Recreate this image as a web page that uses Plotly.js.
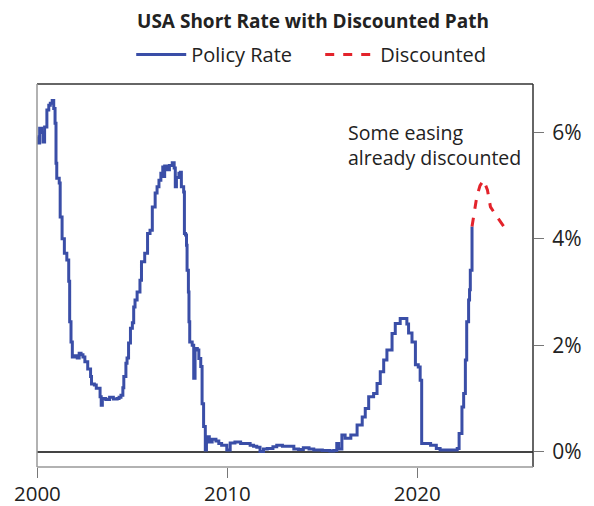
<!DOCTYPE html>
<html>
<head>
<meta charset="utf-8">
<script src="https://cdn.plot.ly/plotly-3.0.1.min.js"></script>
<style>html,body{margin:0;padding:0;background:#fff;}#chart{width:594px;height:506px;}</style>
</head>
<body>
<div id="chart"></div>
<script>
const policyYears = [2000.00,2000.05,2000.12,2000.22,2000.30,2000.38,2000.50,2000.60,2000.68,2000.78,2000.86,2000.93,2000.98,2001.02,2001.15,2001.20,2001.30,2001.42,2001.55,2001.65,2001.70,2001.77,2001.84,2001.95,2002.10,2002.20,2002.30,2002.40,2002.50,2002.65,2002.80,2002.85,2003.00,2003.10,2003.30,2003.36,2003.42,2003.60,2003.80,2004.00,2004.20,2004.30,2004.40,2004.50,2004.55,2004.66,2004.72,2004.80,2004.90,2005.00,2005.07,2005.14,2005.25,2005.40,2005.48,2005.65,2005.80,2005.93,2006.05,2006.20,2006.30,2006.40,2006.50,2006.60,2006.65,2006.70,2006.85,2006.95,2007.10,2007.20,2007.26,2007.32,2007.45,2007.53,2007.58,2007.70,2007.74,2007.80,2007.85,2007.88,2007.95,2007.98,2008.02,2008.15,2008.23,2008.30,2008.42,2008.50,2008.60,2008.67,2008.75,2008.84,2008.90,2009.05,2009.20,2009.40,2009.55,2009.70,2009.97,2010.15,2010.40,2010.70,2011.00,2011.20,2011.38,2011.55,2011.72,2011.90,2012.10,2012.40,2012.60,2012.90,2013.10,2013.50,2013.75,2014.00,2014.30,2014.55,2015.00,2015.40,2015.60,2015.76,2015.86,2016.03,2016.20,2016.50,2016.83,2017.10,2017.26,2017.44,2017.70,2017.88,2018.05,2018.23,2018.40,2018.67,2018.84,2019.10,2019.37,2019.45,2019.54,2019.72,2019.90,2020.05,2020.15,2020.23,2020.70,2021.00,2021.20,2021.60,2022.10,2022.20,2022.35,2022.44,2022.53,2022.60,2022.70,2022.75,2022.79,2022.88];
const policyRate = [5.92,5.80,6.08,6.00,5.82,6.10,6.42,6.51,6.55,6.60,6.45,6.17,5.42,5.14,5.05,4.41,4.00,3.73,3.60,3.20,2.44,2.06,1.78,1.80,1.76,1.85,1.82,1.78,1.69,1.55,1.41,1.27,1.25,1.19,1.03,0.87,1.00,0.98,1.02,0.99,1.00,1.02,1.06,1.20,1.41,1.66,1.76,2.04,2.32,2.42,2.72,2.85,3.00,3.22,3.57,3.73,4.10,4.16,4.60,4.86,4.98,5.10,5.23,5.35,5.17,5.37,5.30,5.38,5.43,5.33,4.98,5.15,5.23,5.25,4.98,4.88,4.10,4.07,3.88,3.41,3.00,2.44,2.06,2.00,1.38,1.94,1.91,1.75,1.60,0.90,0.47,0.03,0.28,0.18,0.23,0.20,0.15,0.12,0.03,0.16,0.18,0.15,0.15,0.12,0.10,0.08,0.00,0.05,0.06,0.09,0.12,0.10,0.10,0.05,0.04,0.07,0.05,0.03,0.02,0.01,0.02,0.15,0.05,0.31,0.25,0.31,0.50,0.65,0.81,1.03,1.09,1.28,1.50,1.72,1.91,2.22,2.41,2.50,2.50,2.40,2.23,2.06,1.63,1.59,1.34,0.15,0.12,0.06,0.03,0.03,0.06,0.34,0.84,1.09,1.72,2.44,2.85,3.04,3.41,4.23];
const discYears = [2022.88,2023.13,2023.30,2023.49,2023.69,2023.85,2024.20,2024.70];
const discRate = [4.23,4.79,5.00,5.10,4.92,4.60,4.41,4.16];
const yTickVals = [0,2,4,6];
const yTickText = ['0%','2%','4%','6%'];
const xTickVals = [2000,2010,2020];
const xTickText = ['2000','2010','2020'];
const noteText = 'Some easing<br>already discounted';

const FONT = '"Open Sans", "Noto Sans", sans-serif';
const traces = [
  {x: policyYears, y: policyRate, type:'scatter', mode:'lines', name:'Policy Rate',
   line:{color:'#3a4ea7', width:3, shape:'hv'}},
  {x: discYears, y: discRate, type:'scatter', mode:'lines', name:'Discounted',
   line:{color:'#e3232b', width:3, dash:'dash'}}
];
const layout = {
  width:594, height:506,
  margin:{l:37, r:61, t:84, b:39},
  paper_bgcolor:'#fff', plot_bgcolor:'#fff',
  font:{family:FONT, color:'#222', size:20},
  title:{text:'<b>USA Short Rate with Discounted Path</b>', x:0.527, xanchor:'center', xref:'container',
         y:0.958, yanchor:'middle', yref:'container', font:{family:FONT, size:19, color:'#222'}},
  showlegend:true,
  legend:{orientation:'h', x:0.571, xanchor:'center', y:1.077, yanchor:'middle', entrywidth:124,
          font:{family:FONT, size:20, color:'#222'}, itemwidth:50, bgcolor:'rgba(0,0,0,0)'},
  xaxis:{range:[1999.98, 2026.09], tickvals:xTickVals, ticktext:xTickText,
         showgrid:false, zeroline:false, ticks:'outside', ticklen:10, tickcolor:'#777', tickwidth:1,
         showline:false, ticklabelstandoff:-2, tickfont:{size:20.5, color:'#222'}},
  yaxis:{range:[-0.29, 6.91], side:'right', tickvals:yTickVals, ticktext:yTickText,
         showgrid:false, zeroline:true, zerolinecolor:'#444', zerolinewidth:2,
         ticks:'outside', ticklen:10, tickcolor:'#777', tickwidth:1, showline:false,
         ticklabelstandoff:4, tickfont:{size:21, color:'#222'}},
  shapes:[
    {type:'line', xref:'paper', yref:'paper', x0:0, x1:1, y0:1, y1:1, line:{color:'#333', width:1.5}},
    {type:'line', xref:'paper', yref:'paper', x0:1, x1:1, y0:0, y1:1, line:{color:'#333', width:1.5}},
    {type:'line', xref:'paper', yref:'paper', x0:0, x1:0, y0:0, y1:1, line:{color:'#999', width:1.5}},
    {type:'line', xref:'paper', yref:'paper', x0:0, x1:1, y0:0, y1:0, line:{color:'#999', width:1.5}}
  ],
  annotations:[
    {text:noteText, x:2016.25, y:5.77, xref:'x', yref:'y',
     xanchor:'left', yanchor:'middle', align:'left', showarrow:false,
     font:{family:FONT, size:19.5, color:'#222'}}
  ]
};
Plotly.newPlot('chart', traces, layout, {displayModeBar:false, staticPlot:true});
</script>
</body>
</html>
